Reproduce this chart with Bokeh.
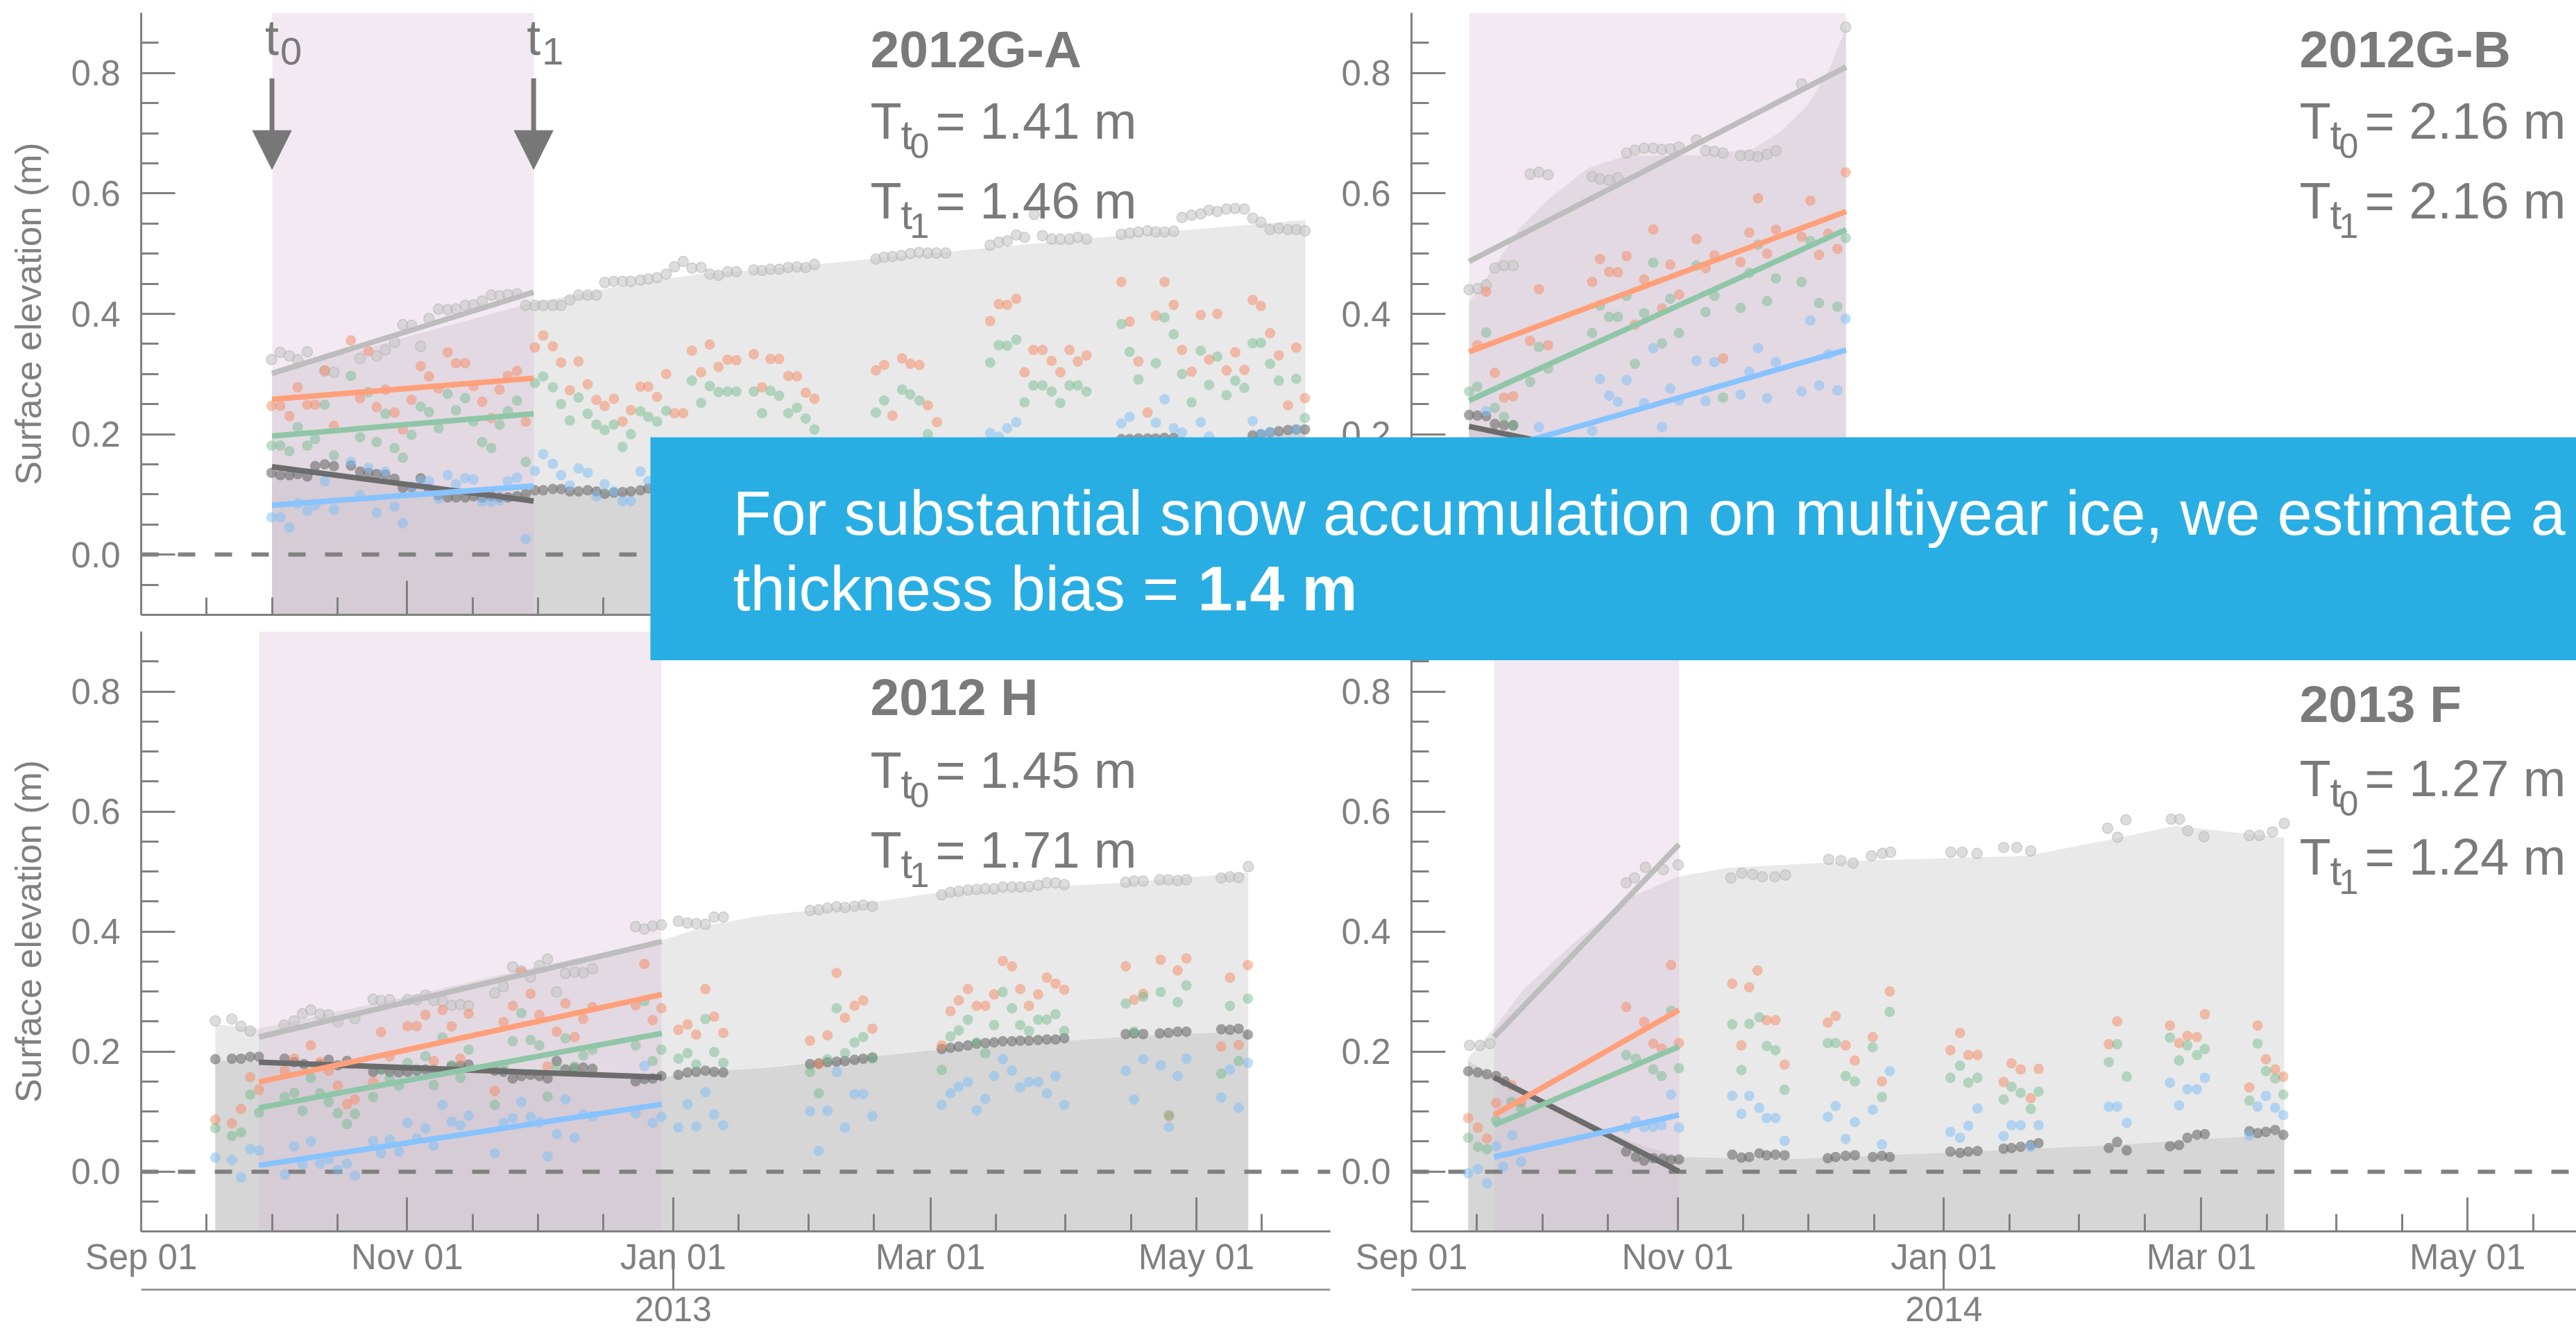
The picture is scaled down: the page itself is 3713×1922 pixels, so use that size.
import pandas as pd
from bokeh.plotting import figure
from bokeh.layouts import column, row
from bokeh.models import (Range1d, FixedTicker, DatetimeAxis, DatetimeTickFormatter, LinearAxis,
                          PrintfTickFormatter, Arrow, NormalHead)
from bokeh.core.properties import value
from bokeh.embed import file_html
from bokeh.resources import INLINE

# ---------------------------------------------------------------- data
# days are counted from 1 September of each season; values in metres
PANEL_NAMES = ["2012G-A", "2012G-B", "2012 H", "2013 F"]
SEASON_START = ["2012-09-01", "2012-09-01", "2012-09-01", "2013-09-01"]
YEAR_LABEL = ["", "", "2013", "2014"]
T_T0 = ["1.41", "2.16", "1.45", "1.27"]
T_T1 = ["1.46", "2.16", "1.71", "1.24"]

# t0 / t1 (days) and linear fits between them
GA_T = [30.0, 90.0]
GA_FIT_SNOW = [0.301, 0.436]
GA_FIT_ICE = [0.146, 0.089]
GA_FIT_ORANGE = [0.258, 0.293]
GA_FIT_GREEN = [0.197, 0.234]
GA_FIT_BLUE = [0.082, 0.114]
GB_T = [13.2, 99.6]
GB_FIT_SNOW = [0.487, 0.810]
GB_FIT_ICE = [0.213, 0.083]
GB_FIT_ORANGE = [0.337, 0.570]
GB_FIT_GREEN = [0.256, 0.540]
GB_FIT_BLUE = [0.161, 0.340]
H_T = [27.0, 119.4]
H_FIT_SNOW = [0.224, 0.383]
H_FIT_ICE = [0.182, 0.157]
H_FIT_ORANGE = [0.149, 0.295]
H_FIT_GREEN = [0.106, 0.230]
H_FIT_BLUE = [0.010, 0.112]
F_T = [18.9, 61.3]
F_FIT_SNOW = [0.224, 0.545]
F_FIT_ICE = [0.157, 0.0]
F_FIT_ORANGE = [0.094, 0.269]
F_FIT_GREEN = [0.077, 0.208]
F_FIT_BLUE = [0.024, 0.094]

# smoothed snow surface and ice surface (filled areas)
GA_SNOW_SURF = [(30, 0.30), (60, 0.36), (90, 0.419), (100, 0.432), (110, 0.446), (120, 0.458),
                (128, 0.466), (140, 0.472), (150, 0.479), (185, 0.503), (220, 0.527), (267, 0.556)]
GA_ICE_SURF = [(30, 0.138), (60, 0.118), (90, 0.101), (117, 0.104), (150, 0.12), (190, 0.15),
               (230, 0.18), (267, 0.205)]
GB_SNOW_SURF = [(13.2, 0.419), (18.4, 0.473), (24.7, 0.542), (31.0, 0.588), (40.4, 0.642),
                (49.2, 0.663), (65.6, 0.663), (78.2, 0.674), (84.5, 0.702), (90.8, 0.747),
                (95.8, 0.807), (99.6, 0.876)]
GB_ICE_SURF = [(13.2, 0.215), (25, 0.195), (50, 0.165), (75, 0.14), (99.6, 0.12)]
H_SNOW_SURF = [(17.0, 0.245), (27.0, 0.238), (60, 0.29), (90, 0.34), (119.4, 0.385), (130, 0.41),
               (142.8, 0.427), (160, 0.44), (183, 0.465), (225, 0.481), (253.9, 0.498)]
H_ICE_SURF = [(17.0, 0.185), (27.0, 0.183), (60, 0.172), (90, 0.163), (119.4, 0.157), (133, 0.168),
              (142.8, 0.172), (183, 0.203), (225, 0.224), (253.9, 0.234)]
F_SNOW_SURF = [(13.0, 0.19), (19.3, 0.242), (25.6, 0.303), (37, 0.380), (50, 0.457), (61, 0.491),
               (72.6, 0.506), (103, 0.518), (141, 0.526), (160, 0.553), (175, 0.576), (200, 0.556)]
F_ICE_SURF = [(13.0, 0.185), (19, 0.157), (30, 0.12), (40, 0.085), (50, 0.05), (61.3, 0.024),
              (85, 0.020), (122, 0.031), (159, 0.043), (200, 0.062)]

# ---- 2012G-A points
GA_SNOW = [(29.9,0.324),(31.9,0.336),(34.0,0.330),(35.9,0.324),(38.1,0.337),(42.1,0.305),(44.2,0.303),
 (50.2,0.326),(54.0,0.330),(56.0,0.340),(58.1,0.353),(60.0,0.382),(62.0,0.381),(64.1,0.346),(66.0,0.392),
 (68.2,0.408),(70.3,0.407),(72.2,0.408),(74.3,0.414),(76.2,0.415),(78.2,0.421),(80.3,0.431),(82.2,0.430),
 (84.1,0.432),(86.2,0.433),(88.2,0.414),(90.3,0.414),(92.2,0.414),(94.4,0.414),(96.3,0.414),(98.3,0.423),
 (100.3,0.431),(102.4,0.431),(104.4,0.431),(106.3,0.452),(108.4,0.454),(110.4,0.454),(112.3,0.454),
 (114.5,0.456),(116.3,0.458),(118.3,0.460),(120.4,0.466),(122.3,0.478),(124.3,0.487),(126.3,0.476),
 (128.4,0.477),(130.4,0.466),(132.4,0.464),(134.5,0.470),(136.5,0.470),(140.5,0.473),(142.4,0.472),
 (144.3,0.474),(146.3,0.474),(148.4,0.477),(150.4,0.478),(152.4,0.477),(154.4,0.482),(168.5,0.491),
 (170.4,0.494),(172.3,0.495),(174.3,0.497),(176.4,0.500),(178.4,0.502),(180.4,0.501),(182.4,0.501),
 (184.5,0.501),(194.7,0.514),(196.7,0.519),(198.6,0.521),(200.7,0.531),(202.6,0.527),(204.8,0.565),
 (206.7,0.530),(208.8,0.524),(210.8,0.524),(212.9,0.524),(214.8,0.527),(216.8,0.524),(224.8,0.532),
 (226.7,0.534),(228.7,0.536),(230.8,0.538),(232.7,0.536),(234.7,0.536),(236.8,0.537),(238.7,0.560),
 (240.9,0.564),(243.0,0.566),(244.9,0.572),(246.8,0.570),(248.9,0.574),(250.9,0.575),(253.0,0.574),
 (254.9,0.559),(256.8,0.552),(258.9,0.540),(260.9,0.542),(263.0,0.540),(264.9,0.540),(266.9,0.538)]
GA_ICE = [(29.9,0.136),(31.9,0.132),(34.0,0.132),(35.9,0.134),(38.1,0.130),(39.9,0.147),(42.1,0.150),
 (44.2,0.147),(48.1,0.148),(50.2,0.138),(52.1,0.136),(54.0,0.134),(56.0,0.133),(58.1,0.126),(60.0,0.111),
 (62.0,0.112),(64.1,0.127),(66.0,0.109),(68.2,0.099),(70.3,0.095),(72.2,0.095),(74.3,0.095),(76.2,0.097),
 (78.2,0.095),(80.3,0.097),(82.2,0.095),(84.1,0.095),(86.2,0.097),(88.2,0.101),(90.3,0.107),(92.2,0.107),
 (94.4,0.109),(96.3,0.109),(98.3,0.105),(100.3,0.105),(102.4,0.107),(104.4,0.105),(106.3,0.101),
 (108.4,0.103),(110.4,0.104),(112.3,0.105),(114.5,0.107),(116.3,0.110),(224.8,0.192),(226.7,0.192),
 (228.7,0.193),(230.8,0.193),(232.7,0.193),(234.7,0.194),(236.8,0.194),(254.9,0.198),(256.8,0.200),
 (258.9,0.203),(260.9,0.205),(263.0,0.207),(264.9,0.208),(266.9,0.208)]
GA_ORANGE = [(29.9,0.247),(31.9,0.247),(34.0,0.230),(35.9,0.278),(38.1,0.249),(39.9,0.249),(42.1,0.306),
 (44.2,0.214),(48.1,0.356),(50.2,0.260),(52.1,0.338),(54.0,0.245),(56.0,0.274),(58.1,0.236),(60.0,0.208),
 (62.0,0.257),(64.1,0.313),(66.0,0.296),(68.2,0.276),(70.3,0.336),(72.2,0.318),(74.3,0.318),(76.2,0.280),
 (78.2,0.254),(80.3,0.227),(82.2,0.274),(84.1,0.297),(86.2,0.305),(88.2,0.221),(90.3,0.344),(92.2,0.364),
 (94.4,0.346),(96.3,0.319),(98.3,0.273),(100.3,0.321),(102.4,0.283),(104.4,0.257),(106.3,0.247),
 (108.4,0.259),(110.4,0.221),(112.3,0.240),(114.5,0.279),(116.3,0.279),(118.3,0.262),(120.4,0.300),
 (122.3,0.235),(124.3,0.235),(126.3,0.339),(128.4,0.303),(130.4,0.349),(132.4,0.312),(134.5,0.324),
 (136.5,0.323),(140.5,0.333),(142.4,0.278),(144.3,0.325),(146.3,0.325),(148.4,0.297),(150.4,0.296),
 (152.4,0.269),(154.4,0.259),(168.5,0.306),(170.4,0.315),(172.3,0.231),(174.5,0.326),(176.4,0.317),
 (178.5,0.315),(180.4,0.248),(182.5,0.220),(194.7,0.388),(196.7,0.416),(198.6,0.415),(200.7,0.425),
 (202.6,0.303),(204.6,0.340),(206.7,0.340),(208.8,0.322),(210.8,0.303),(212.9,0.340),(214.8,0.321),
 (216.8,0.331),(224.8,0.453),(226.7,0.387),(228.7,0.321),(230.8,0.236),(232.7,0.397),(234.7,0.453),
 (236.8,0.415),(238.7,0.340),(240.9,0.304),(243.0,0.398),(244.9,0.324),(246.8,0.400),(248.9,0.306),
 (250.9,0.336),(253.0,0.307),(254.9,0.423),(256.8,0.413),(258.9,0.368),(260.9,0.331),(263.0,0.248),
 (264.9,0.344),(266.9,0.260)]
GA_GREEN = [(29.9,0.181),(31.9,0.181),(34.0,0.172),(35.9,0.212),(38.1,0.181),(39.9,0.192),(42.1,0.249),
 (44.2,0.165),(48.1,0.297),(50.2,0.195),(52.1,0.270),(54.0,0.187),(56.0,0.234),(58.1,0.177),(60.0,0.161),
 (62.0,0.199),(64.1,0.246),(66.0,0.237),(68.2,0.210),(70.3,0.267),(72.2,0.240),(74.3,0.260),(76.2,0.221),
 (78.2,0.187),(80.3,0.177),(82.2,0.216),(84.1,0.238),(86.2,0.256),(88.2,0.154),(90.3,0.285),(92.2,0.296),
 (94.4,0.278),(96.3,0.250),(98.3,0.223),(100.3,0.261),(102.4,0.234),(104.4,0.216),(106.3,0.207),
 (108.4,0.216),(110.4,0.179),(112.3,0.200),(114.5,0.238),(116.3,0.229),(118.3,0.221),(120.4,0.239),
 (126.3,0.289),(128.4,0.252),(130.4,0.280),(132.4,0.270),(134.5,0.271),(136.5,0.271),(140.5,0.271),
 (142.4,0.235),(144.3,0.272),(146.3,0.264),(148.4,0.235),(150.4,0.244),(152.4,0.226),(154.4,0.208),
 (168.5,0.236),(170.4,0.256),(174.5,0.274),(176.4,0.266),(178.5,0.256),(180.4,0.200),(194.7,0.319),
 (196.7,0.348),(198.6,0.347),(200.7,0.357),(202.6,0.253),(204.6,0.281),(206.7,0.281),(208.8,0.271),
 (210.8,0.252),(212.9,0.281),(214.8,0.281),(216.8,0.271),(224.8,0.383),(226.7,0.337),(228.7,0.291),
 (232.7,0.318),(234.7,0.394),(236.8,0.366),(238.7,0.300),(240.9,0.253),(243.0,0.339),(244.9,0.282),
 (246.8,0.329),(248.9,0.265),(250.9,0.289),(253.0,0.277),(254.9,0.351),(256.8,0.352),(258.9,0.317),
 (260.9,0.289),(264.9,0.292),(266.9,0.227)]
GA_BLUE = [(29.9,0.062),(31.9,0.062),(34.0,0.045),(35.9,0.085),(38.1,0.073),(39.9,0.082),(42.1,0.122),
 (44.2,0.075),(48.1,0.154),(50.2,0.099),(52.1,0.144),(54.0,0.070),(56.0,0.138),(58.1,0.080),(60.0,0.052),
 (62.0,0.113),(64.1,0.122),(66.0,0.122),(68.2,0.093),(70.3,0.132),(72.2,0.117),(74.3,0.127),(76.2,0.125),
 (78.2,0.088),(80.3,0.088),(82.2,0.090),(84.1,0.122),(86.2,0.128),(88.2,0.026),(90.3,0.139),(92.2,0.167),
 (94.4,0.151),(96.3,0.132),(98.3,0.115),(100.3,0.143),(102.4,0.136),(104.4,0.097),(106.3,0.117),
 (108.4,0.105),(110.4,0.089),(112.3,0.089),(114.5,0.138),(116.3,0.122),(194.7,0.202),(196.7,0.196),
 (198.6,0.210),(200.7,0.220),(224.8,0.218),(226.7,0.229),(232.7,0.219),(234.7,0.258),(236.8,0.210),
 (238.7,0.203),(243.0,0.220),(244.9,0.196),(254.9,0.222),(256.8,0.200),(258.9,0.204),(264.9,0.208)]

# ---- 2012G-B points
GB_SNOW = [(13.2,0.440),(15.2,0.442),(17.1,0.448),(19.1,0.476),(21.2,0.480),(23.3,0.480),(27.2,0.632),
 (29.2,0.635),(31.3,0.631),(41.4,0.628),(43.2,0.624),(45.3,0.622),(47.3,0.626),(49.3,0.667),(51.2,0.672),
 (53.3,0.675),(55.4,0.675),(57.4,0.673),(59.3,0.674),(61.3,0.677),(65.3,0.689),(67.4,0.671),(69.4,0.670),
 (71.4,0.667),(75.4,0.663),(77.4,0.663),(79.4,0.661),(81.5,0.665),(83.5,0.671),(89.4,0.782),(99.5,0.876)]
GB_ICE = [(13.2,0.232),(15.1,0.231),(17.1,0.230),(19.1,0.217),(21.2,0.215),(23.3,0.215)]
GB_ORANGE = [(15.1,0.348),(17.1,0.437),(19.1,0.302),(21.2,0.261),(23.3,0.263),(27.2,0.355),(29.2,0.441),
 (31.3,0.348),(41.4,0.453),(43.2,0.491),(45.3,0.470),(47.3,0.469),(49.3,0.496),(51.2,0.382),(53.3,0.457),
 (55.4,0.540),(57.4,0.409),(59.3,0.482),(61.3,0.432),(65.3,0.524),(67.4,0.476),(69.4,0.497),(71.4,0.326),
 (75.4,0.486),(77.4,0.535),(79.4,0.592),(81.5,0.500),(83.5,0.540),(89.4,0.528),(91.4,0.588),(93.4,0.498),
 (95.5,0.533),(97.6,0.508),(99.5,0.635)]
GB_GREEN = [(13.2,0.271),(15.1,0.279),(17.1,0.369),(19.1,0.244),(21.2,0.229),(23.3,0.214),(27.2,0.287),
 (29.2,0.345),(31.3,0.309),(41.4,0.368),(43.2,0.414),(45.3,0.395),(47.3,0.395),(49.3,0.430),(51.2,0.317),
 (53.3,0.401),(55.4,0.485),(57.4,0.351),(59.3,0.425),(61.3,0.368),(65.3,0.480),(67.4,0.403),(69.4,0.430),
 (71.4,0.261),(75.4,0.410),(77.4,0.468),(79.4,0.515),(81.5,0.421),(83.5,0.459),(89.4,0.453),(91.4,0.521),
 (93.4,0.418),(97.6,0.412),(99.5,0.526)]
GB_BLUE = [(17.1,0.238),(29.2,0.212),(41.4,0.206),(43.2,0.292),(45.3,0.264),(47.3,0.254),(49.3,0.290),
 (53.3,0.252),(55.4,0.343),(57.4,0.212),(59.3,0.276),(61.3,0.256),(65.3,0.322),(67.4,0.255),(69.4,0.320),
 (75.4,0.266),(77.4,0.304),(79.4,0.343),(81.5,0.260),(83.5,0.320),(89.4,0.271),(91.4,0.389),(93.4,0.281),
 (95.5,0.333),(97.6,0.273),(99.5,0.392)]

# ---- 2012 H points
H_SNOW = [(17.0,0.251),(20.8,0.254),(22.9,0.242),(25.0,0.234),(32.8,0.244),(35.1,0.251),(37.0,0.263),
 (38.9,0.269),(41.0,0.262),(43.0,0.261),(45.1,0.249),(49.0,0.255),(53.2,0.287),(55.0,0.285),(57.0,0.286),
 (61.1,0.286),(63.2,0.286),(65.2,0.294),(67.1,0.285),(69.1,0.284),(71.2,0.277),(73.2,0.278),(75.1,0.276),
 (81.1,0.297),(83.1,0.308),(85.2,0.341),(87.2,0.334),(89.3,0.324),(91.3,0.343),(93.2,0.354),(95.3,0.299),
 (97.3,0.330),(99.4,0.332),(101.4,0.331),(103.5,0.338),(113.4,0.408),(115.4,0.404),(117.3,0.409),
 (119.3,0.411),(123.2,0.417),(125.3,0.414),(127.3,0.413),(129.4,0.412),(131.4,0.424),(133.5,0.424),
 (153.4,0.435),(155.4,0.436),(157.4,0.439),(159.5,0.441),(161.4,0.440),(163.6,0.442),(165.6,0.444),
 (167.7,0.442),(183.6,0.461),(185.6,0.465),(187.5,0.467),(189.6,0.469),(191.6,0.470),(193.6,0.471),
 (195.6,0.471),(197.6,0.474),(199.7,0.474),(201.6,0.474),(203.6,0.475),(205.7,0.477),(207.7,0.481),
 (209.7,0.481),(211.7,0.478),(225.8,0.482),(227.7,0.484),(229.8,0.484),(233.6,0.486),(235.6,0.486),
 (237.7,0.485),(239.7,0.486),(247.7,0.489),(249.7,0.491),(251.7,0.490),(253.9,0.508)]
H_ICE = [(17.0,0.187),(20.8,0.188),(22.9,0.188),(25.0,0.191),(27.0,0.191),(32.9,0.188),(35.1,0.182),
 (37.3,0.179),(41.0,0.178),(43.0,0.186),(45.1,0.177),(47.2,0.184),(53.2,0.166),(55.0,0.170),(57.0,0.166),
 (59.1,0.165),(61.1,0.166),(63.2,0.168),(65.2,0.170),(67.1,0.169),(71.2,0.175),(73.2,0.176),(75.1,0.178),
 (81.1,0.168),(83.1,0.166),(85.2,0.155),(87.2,0.159),(89.3,0.161),(91.3,0.159),(93.2,0.155),(95.3,0.184),
 (97.3,0.170),(99.4,0.172),(101.4,0.173),(103.5,0.171),(113.4,0.150),(115.4,0.154),(117.3,0.155),
 (119.3,0.159),(123.2,0.161),(125.3,0.165),(127.3,0.166),(129.4,0.168),(131.4,0.166),(133.5,0.165),
 (153.4,0.179),(155.4,0.180),(157.4,0.182),(159.5,0.183),(161.4,0.184),(163.6,0.186),(165.6,0.188),
 (167.7,0.190),(183.6,0.204),(185.6,0.206),(187.5,0.208),(189.6,0.210),(191.6,0.213),(193.6,0.214),
 (195.6,0.215),(197.6,0.217),(199.7,0.217),(201.6,0.218),(203.6,0.218),(205.7,0.219),(207.7,0.220),
 (209.7,0.220),(211.7,0.222),(225.8,0.229),(227.7,0.230),(229.8,0.229),(233.6,0.230),(235.6,0.231),
 (237.7,0.233),(239.7,0.233),(247.7,0.237),(249.7,0.236),(251.7,0.238),(253.8,0.228)]
H_ORANGE = [(17.0,0.086),(20.8,0.080),(22.9,0.104),(25.0,0.157),(27.0,0.136),(32.9,0.168),(35.1,0.188),
 (38.9,0.210),(41.0,0.182),(43.0,0.168),(45.1,0.143),(47.2,0.112),(49.0,0.120),(53.2,0.149),(55.0,0.232),
 (57.0,0.192),(61.1,0.242),(63.2,0.242),(65.2,0.261),(67.1,0.184),(69.1,0.269),(71.2,0.242),(73.2,0.188),
 (75.1,0.263),(81.1,0.134),(83.1,0.249),(85.2,0.276),(87.2,0.332),(89.3,0.296),(91.3,0.261),(93.2,0.175),
 (95.3,0.233),(97.3,0.280),(99.4,0.224),(101.4,0.254),(103.5,0.274),(113.4,0.277),(115.4,0.346),
 (117.3,0.252),(119.3,0.272),(123.2,0.236),(125.3,0.245),(127.3,0.228),(129.4,0.304),(131.4,0.258),
 (133.5,0.231),(153.4,0.218),(155.4,0.179),(157.4,0.227),(159.5,0.331),(161.4,0.256),(163.6,0.276),
 (165.6,0.285),(167.7,0.238),(183.6,0.210),(185.6,0.267),(187.5,0.285),(189.6,0.304),(191.6,0.276),
 (193.6,0.276),(195.6,0.295),(197.6,0.351),(199.7,0.342),(201.6,0.304),(203.6,0.276),(205.7,0.295),
 (207.7,0.323),(209.7,0.313),(211.7,0.303),(225.8,0.342),(227.7,0.286),(229.8,0.296),(233.8,0.353),
 (235.7,0.092),(237.7,0.335),(239.7,0.355),(247.7,0.208),(249.7,0.323),(251.7,0.211),(253.8,0.344)]
H_GREEN = [(17.0,0.072),(20.8,0.059),(22.9,0.065),(25.0,0.128),(27.0,0.098),(32.9,0.124),(35.1,0.131),
 (37.0,0.101),(38.9,0.156),(41.0,0.130),(43.0,0.116),(45.1,0.097),(47.2,0.079),(49.0,0.096),(53.2,0.124),
 (55.0,0.170),(57.0,0.155),(59.1,0.143),(61.1,0.181),(63.2,0.171),(65.2,0.192),(67.1,0.144),(69.1,0.223),
 (71.2,0.177),(73.2,0.156),(75.1,0.203),(81.1,0.111),(83.1,0.176),(85.2,0.217),(87.2,0.264),(89.3,0.219),
 (91.3,0.210),(93.2,0.125),(95.3,0.173),(97.3,0.222),(99.4,0.175),(101.4,0.193),(103.5,0.203),
 (113.4,0.210),(115.4,0.284),(117.3,0.184),(119.3,0.203),(123.2,0.188),(125.3,0.197),(127.3,0.178),
 (129.4,0.254),(131.4,0.199),(133.5,0.181),(153.4,0.166),(155.4,0.130),(157.4,0.187),(159.5,0.272),
 (161.4,0.197),(163.6,0.215),(165.6,0.224),(167.7,0.188),(183.6,0.169),(185.6,0.225),(187.5,0.235),
 (189.6,0.253),(191.6,0.215),(193.6,0.197),(195.6,0.244),(197.6,0.299),(199.7,0.272),(201.6,0.244),
 (203.6,0.234),(205.7,0.253),(207.7,0.253),(209.7,0.262),(211.7,0.234),(225.8,0.280),(227.7,0.233),
 (229.8,0.291),(233.8,0.299),(235.7,0.094),(237.7,0.282),(239.7,0.310),(247.7,0.163),(249.7,0.276),
 (251.7,0.184),(253.8,0.288)]
H_BLUE = [(17.0,0.023),(20.8,0.019),(22.9,-0.010),(25.0,0.037),(27.0,0.035),(32.9,-0.005),(35.1,0.042),
 (37.0,0.012),(38.9,0.050),(41.0,0.013),(43.0,0.020),(45.1,0.003),(47.2,0.013),(49.0,-0.007),(53.2,0.051),
 (55.0,0.030),(57.0,0.053),(59.1,0.033),(61.1,0.081),(63.2,0.055),(65.2,0.072),(67.1,0.043),(69.1,0.111),
 (71.2,0.083),(73.2,0.077),(75.1,0.093),(81.1,0.030),(83.1,0.081),(85.2,0.089),(87.2,0.116),(89.3,0.091),
 (91.3,0.082),(93.2,0.025),(95.3,0.062),(97.3,0.120),(99.4,0.056),(101.4,0.095),(103.5,0.092),
 (113.4,0.097),(115.4,0.176),(117.3,0.081),(119.3,0.091),(123.2,0.073),(125.3,0.112),(127.3,0.075),
 (129.4,0.132),(131.4,0.095),(133.5,0.077),(153.4,0.100),(155.4,0.034),(157.4,0.101),(159.5,0.166),
 (161.4,0.073),(163.6,0.129),(165.6,0.129),(167.7,0.092),(183.6,0.111),(185.6,0.130),(187.5,0.141),
 (189.6,0.149),(191.6,0.102),(193.6,0.121),(195.6,0.159),(197.6,0.187),(199.7,0.168),(201.6,0.140),
 (203.6,0.149),(205.7,0.149),(207.7,0.130),(209.7,0.159),(211.7,0.111),(225.8,0.168),(227.7,0.120),
 (229.8,0.187),(233.8,0.177),(235.7,0.074),(237.7,0.159),(239.7,0.188),(247.7,0.123),(249.7,0.170),
 (251.7,0.106),(253.8,0.181)]

# ---- 2013 F points
F_SNOW = [(13.3,0.210),(15.7,0.210),(18.0,0.213),(49.2,0.481),(51.1,0.489),(53.6,0.507),(57.7,0.503),
 (61.1,0.511),(73.2,0.489),(75.7,0.497),(78.2,0.495),(80.4,0.491),(83.3,0.491),(85.7,0.494),(95.6,0.520),
 (98.4,0.518),(101.2,0.514),(105.4,0.526),(107.9,0.530),(109.8,0.532),(123.6,0.532),(126.2,0.532),
 (129.6,0.530),(135.7,0.540),(138.7,0.540),(141.9,0.534),(159.5,0.572),(161.8,0.557),(163.7,0.586),
 (174.1,0.587),(176.0,0.587),(177.9,0.568),(181.6,0.558),(192.0,0.560),(194.3,0.560),(197.3,0.566),
 (200.0,0.580)]
F_ICE = [(13.0,0.167),(15.2,0.165),(17.3,0.162),(19.4,0.159),(21.4,0.150),(49.2,0.033),(51.4,0.024),
 (53.3,0.018),(55.4,0.022),(57.6,0.021),(59.5,0.019),(61.3,0.020),(73.5,0.028),(75.6,0.023),(77.4,0.024),
 (79.7,0.030),(81.4,0.027),(83.4,0.028),(85.5,0.027),(95.4,0.022),(97.2,0.024),(99.5,0.026),(101.6,0.027),
 (105.7,0.024),(107.8,0.026),(109.6,0.024),(123.5,0.033),(125.7,0.031),(127.6,0.033),(129.7,0.034),
 (135.7,0.038),(137.5,0.039),(139.6,0.041),(141.9,0.044),(143.7,0.047),(159.8,0.039),(161.7,0.049),
 (163.9,0.035),(173.8,0.042),(175.9,0.044),(177.8,0.056),(180.0,0.061),(181.8,0.062),(192.0,0.067),
 (193.9,0.064),(195.8,0.066),(197.9,0.069),(199.8,0.061)]
F_ORANGE = [(13.0,0.089),(15.2,0.073),(17.3,0.055),(19.4,0.114),(22.9,0.144),(25.1,0.115),(49.2,0.274),
 (53.3,0.249),(55.4,0.213),(57.3,0.205),(59.5,0.344),(61.3,0.214),(73.5,0.313),(75.6,0.210),(77.4,0.307),
 (79.3,0.335),(81.4,0.252),(83.4,0.252),(85.5,0.178),(95.4,0.248),(97.2,0.259),(99.5,0.210),(101.6,0.185),
 (105.7,0.224),(107.8,0.150),(109.6,0.300),(123.5,0.202),(125.7,0.231),(127.6,0.194),(129.7,0.194),
 (135.7,0.149),(137.5,0.180),(139.6,0.170),(141.9,0.122),(143.7,0.171),(159.8,0.212),(161.7,0.250),
 (173.8,0.243),(175.9,0.214),(177.8,0.226),(180.0,0.224),(181.8,0.262),(192.0,0.140),(193.9,0.243),
 (195.8,0.187),(197.9,0.170),(199.8,0.158)]
F_GREEN = [(13.0,0.056),(15.2,0.041),(17.3,0.037),(19.4,0.085),(22.9,0.116),(25.1,0.105),(49.2,0.194),
 (51.4,0.188),(55.4,0.170),(57.3,0.159),(59.5,0.268),(61.3,0.172),(73.5,0.245),(75.6,0.169),(77.4,0.246),
 (79.7,0.257),(81.4,0.209),(83.4,0.202),(85.5,0.136),(95.4,0.214),(97.2,0.214),(99.5,0.159),(101.6,0.150),
 (105.7,0.207),(107.8,0.124),(109.6,0.266),(123.5,0.156),(125.7,0.176),(127.6,0.148),(129.7,0.156),
 (135.7,0.120),(137.5,0.141),(139.6,0.131),(141.9,0.104),(143.7,0.133),(159.8,0.182),(161.7,0.212),
 (163.9,0.158),(173.8,0.223),(175.9,0.185),(177.8,0.210),(180.0,0.194),(181.8,0.204),(192.0,0.118),
 (193.9,0.213),(195.8,0.167),(197.9,0.155),(199.8,0.128)]
F_BLUE = [(13.0,-0.003),(15.2,0.004),(17.3,-0.020),(19.4,0.042),(21.0,0.008),(23.1,0.060),(25.1,0.016),
 (49.2,0.072),(51.4,0.084),(53.3,0.074),(55.4,0.074),(57.3,0.077),(59.5,0.128),(61.3,0.073),(73.5,0.126),
 (75.6,0.096),(77.4,0.126),(79.7,0.106),(81.4,0.089),(83.4,0.089),(85.5,0.051),(95.4,0.091),(97.2,0.109),
 (99.5,0.054),(101.6,0.082),(105.7,0.103),(107.8,0.045),(109.6,0.167),(123.5,0.066),(125.7,0.056),
 (127.6,0.076),(129.7,0.105),(135.7,0.059),(137.5,0.077),(139.6,0.077),(141.9,0.041),(143.7,0.077),
 (159.8,0.108),(161.7,0.108),(163.9,0.081),(173.8,0.148),(175.9,0.110),(177.8,0.137),(180.0,0.137),
 (181.8,0.156),(192.0,0.060),(193.9,0.108),(195.8,0.126),(197.9,0.106),(199.8,0.094)]

BANNER_LINE1 = "For substantial snow accumulation on multiyear ice, we estimate a"
BANNER_LINE2 = "thickness bias = "
BANNER_BOLD = "1.4 m"

# ---------------------------------------------------------------- style
FONT = "Liberation Sans"
AX = "#808080"
TXT = "#7a7a7a"
SNOW_AREA = "#e9e9e9"
ICE_AREA = "#d6d6d6"
PINK = "#d7b6d4"
BLUE_BANNER = "#29aee3"
PT_STYLE = {"snow": ("#c6c6c6", 0.6), "ice": ("#6a6a6a", 0.6), "orange": ("#f58a64", 0.5),
            "green": ("#6db88a", 0.45), "blue": ("#7bbef7", 0.5)}
LINE_COL = {"snow": "#bdbdbd", "ice": "#6c6c6c", "orange": "#ffa07a", "green": "#8fc6a8",
            "blue": "#87c3ff"}
DAY_MS = 86400000.0
BASE_SHIFT = 0.33   # glyph text is drawn this many em below the requested baseline

# panel layout: canvas origin, canvas size, borders (l, r, t, b), px per day
GEOM = [
    dict(cx=0, cy=0, w=1925, h=898, bl=203, br=8, bt=18, bb=12, ppd=6.285),
    dict(cx=1925, cy=0, w=1788, h=898, bl=109, br=0, bt=18, bb=12, ppd=6.29),
    dict(cx=0, cy=898, w=1925, h=1024, bl=203, br=8, bt=12, bb=147, ppd=6.285),
    dict(cx=1925, cy=898, w=1788, h=1024, bl=109, br=0, bt=12, bb=147, ppd=6.29),
]
TEXT_POS = [(1254, 95, 198, 313), (3314, 95, 198, 313), (1254, 1029, 1134, 1249),
            (3314, 1039, 1146, 1259)]

SERIES = [
    dict(t=GA_T, fits=dict(snow=GA_FIT_SNOW, ice=GA_FIT_ICE, orange=GA_FIT_ORANGE, green=GA_FIT_GREEN, blue=GA_FIT_BLUE),
         snow_surf=GA_SNOW_SURF, ice_surf=GA_ICE_SURF,
         pts=dict(snow=GA_SNOW, ice=GA_ICE, orange=GA_ORANGE, green=GA_GREEN, blue=GA_BLUE)),
    dict(t=GB_T, fits=dict(snow=GB_FIT_SNOW, ice=GB_FIT_ICE, orange=GB_FIT_ORANGE, green=GB_FIT_GREEN, blue=GB_FIT_BLUE),
         snow_surf=GB_SNOW_SURF, ice_surf=GB_ICE_SURF,
         pts=dict(snow=GB_SNOW, ice=GB_ICE, orange=GB_ORANGE, green=GB_GREEN, blue=GB_BLUE)),
    dict(t=H_T, fits=dict(snow=H_FIT_SNOW, ice=H_FIT_ICE, orange=H_FIT_ORANGE, green=H_FIT_GREEN, blue=H_FIT_BLUE),
         snow_surf=H_SNOW_SURF, ice_surf=H_ICE_SURF,
         pts=dict(snow=H_SNOW, ice=H_ICE, orange=H_ORANGE, green=H_GREEN, blue=H_BLUE)),
    dict(t=F_T, fits=dict(snow=F_FIT_SNOW, ice=F_FIT_ICE, orange=F_FIT_ORANGE, green=F_FIT_GREEN, blue=F_FIT_BLUE),
         snow_surf=F_SNOW_SURF, ice_surf=F_ICE_SURF,
         pts=dict(snow=F_SNOW, ice=F_ICE, orange=F_ORANGE, green=F_GREEN, blue=F_BLUE)),
]


def fmt(f):
    keys = ["microseconds", "milliseconds", "seconds", "minsec", "minutes", "hourmin",
            "hours", "days", "months", "years"]
    return DatetimeTickFormatter(**{k: f for k in keys})


def style_axis(ax, lab_size):
    ax.axis_line_color = AX
    ax.axis_line_width = 3
    ax.major_tick_line_color = AX
    ax.major_tick_line_width = 3
    ax.minor_tick_line_color = AX
    ax.minor_tick_line_width = 3
    ax.major_label_text_color = AX
    ax.major_label_text_font = FONT
    ax.major_label_text_font_size = lab_size
    ax.major_tick_out = 0
    ax.minor_tick_out = 0


def make_panel(i):
    g = GEOM[i]
    s = SERIES[i]
    start = pd.Timestamp(SEASON_START[i])
    x0 = start.value / 1e6
    fw = g["w"] - g["bl"] - g["br"]
    fh = g["h"] - g["bt"] - g["bb"]
    x1 = x0 + fw / g["ppd"] * DAY_MS
    fl = g["cx"] + g["bl"]
    ft = g["cy"] + g["bt"]

    def X(d):
        return x0 + d * DAY_MS

    def PX(px):
        return x0 + (px - fl) / fw * (x1 - x0)

    def PY(py, size=0):
        return 0.9 - (py - BASE_SHIFT * size - ft) / fh

    p = figure(width=g["w"], height=g["h"], x_axis_type="datetime",
               x_range=Range1d(x0, x1), y_range=Range1d(-0.1, 0.9),
               output_backend="svg", toolbar_location=None,
               min_border_left=g["bl"], min_border_right=g["br"],
               min_border_top=g["bt"], min_border_bottom=g["bb"])
    p.outline_line_color = None
    p.xgrid.visible = False
    p.ygrid.visible = False
    p.background_fill_color = "white"
    p.border_fill_color = "white"

    # y axis
    ya = p.yaxis[0]
    style_axis(ya, "51px")
    ya.ticker = FixedTicker(ticks=[0.0, 0.2, 0.4, 0.6, 0.8],
                            minor_ticks=[round(-0.05 + 0.05 * k, 2) for k in range(19)])
    ya.formatter = PrintfTickFormatter(format="%.1f")
    ya.major_tick_in = 49
    ya.minor_tick_in = 25
    ya.major_label_standoff = 30
    if i in (0, 2):
        ya.axis_label = "Surface elevation (m)"
        ya.axis_label_text_font = FONT
        ya.axis_label_text_font_size = "52px"
        ya.axis_label_text_font_style = "normal"
        ya.axis_label_text_color = AX
        ya.axis_label_standoff = 30

    # x axis ticks: month starts (long, labelled in the bottom row) and half months
    majors = [pd.Timestamp(start.year, 9, 1), pd.Timestamp(start.year, 11, 1),
              pd.Timestamp(start.year + 1, 1, 1), pd.Timestamp(start.year + 1, 3, 1),
              pd.Timestamp(start.year + 1, 5, 1)]
    major_ms = [t.value / 1e6 for t in majors]
    minors = []
    for k in range(10):
        m = (start + pd.DateOffset(months=k))
        minors.append(m)
        minors.append(m + pd.Timedelta(days=15))
    minor_ms = [t.value / 1e6 for t in minors]
    xa = p.xaxis[0]
    style_axis(xa, "51px")
    xa.formatter = fmt("%b %d")
    xa.minor_tick_in = 25
    if YEAR_LABEL[i]:
        xa.ticker = FixedTicker(ticks=major_ms, minor_ticks=minor_ms)
        xa.major_tick_in = 49
        xa.major_label_standoff = 8
        # invisible spacer between the date labels and the year axis
        spacer = LinearAxis(ticker=FixedTicker(ticks=[], minor_ticks=major_ms), axis_line_color=None,
                            major_tick_out=16, minor_tick_out=16, major_tick_in=0, minor_tick_in=0,
                            major_tick_line_alpha=0, minor_tick_line_alpha=0)
        p.add_layout(spacer, "below")
        yr = DatetimeAxis(ticker=FixedTicker(ticks=[pd.Timestamp(int(YEAR_LABEL[i]), 1, 1).value / 1e6],
                                             minor_ticks=[]),
                          formatter=fmt("%Y"))
        style_axis(yr, "50px")
        yr.major_tick_in = 37
        yr.minor_tick_in = 0
        yr.major_label_standoff = 10
        yr.axis_line_color = "#9a9a9a"
        p.add_layout(yr, "below")
    else:
        xa.ticker = FixedTicker(ticks=[], minor_ticks=minor_ms)
        longt = LinearAxis(ticker=FixedTicker(ticks=[], minor_ticks=major_ms), axis_line_color=None,
                           major_tick_out=0, minor_tick_out=0, major_tick_in=0, minor_tick_in=49,
                           minor_tick_line_color=AX, minor_tick_line_width=3)
        p.add_layout(longt, "below")

    # filled surfaces
    sd = [X(d) for d, v in s["snow_surf"]]
    p.varea(x=sd, y1=[-0.2] * len(sd), y2=[v for d, v in s["snow_surf"]], fill_color=SNOW_AREA)
    idd = [X(d) for d, v in s["ice_surf"]]
    p.varea(x=idd, y1=[-0.2] * len(idd), y2=[v for d, v in s["ice_surf"]], fill_color=ICE_AREA)
    t0, t1 = s["t"]
    p.vstrip(x0=[X(t0)], x1=[X(t1)], fill_color=PINK, fill_alpha=0.3, line_color=None)
    p.hspan(y=[0.0], line_color=AX, line_width=6, line_dash="25 28")

    for key in ["snow", "ice", "orange", "green", "blue"]:
        col, al = PT_STYLE[key]
        pts = s["pts"][key]
        extra = dict(line_color="#b0b0b0", line_alpha=0.5, line_width=1.5) if key == "snow" \
            else dict(line_color=None)
        p.scatter(x=[X(d) for d, v in pts], y=[v for d, v in pts], size=15,
                  fill_color=col, fill_alpha=al, **extra)
    for key in ["snow", "ice", "orange", "green", "blue"]:
        p.line(x=[X(t0), X(t1)], y=s["fits"][key], line_color=LINE_COL[key], line_width=8)

    # labels
    common = dict(text_font=value(FONT), text_color=TXT, text_baseline="alphabetic",
                  text_align="left")
    tx, bt, b1, b2 = TEXT_POS[i]
    p.text(x=[PX(tx)], y=[PY(bt, 75)], text=[PANEL_NAMES[i]], text_font_size="75px",
           text_font_style="bold", **common)
    for b, sub, val in ((b1, "0", T_T0[i]), (b2, "1", T_T1[i])):
        p.text(x=[PX(tx)], y=[PY(b, 74)], text=["T"], text_font_size="74px", **common)
        p.text(x=[PX(tx + 44)], y=[PY(b + 16, 60)], text=["t"], text_font_size="60px", **common)
        p.text(x=[PX(tx + 57)], y=[PY(b + 28, 50)], text=[sub], text_font_size="50px", **common)
        p.text(x=[PX(tx + 94)], y=[PY(b, 74)], text=["= " + val + " m"], text_font_size="74px", **common)

    if i == 0:
        AC = "#777777"
        for t, sub in ((t0, "0"), (t1, "1")):
            p.add_layout(Arrow(end=NormalHead(size=56, fill_color=AC, line_color=AC),
                               x_start=X(t), y_start=0.791, x_end=X(t), y_end=0.640,
                               line_color=AC, line_width=7))
            tpx = fl + t * g["ppd"]
            p.text(x=[PX(tpx - 10)], y=[PY(77, 72)], text=["t"], text_font_size="72px", **common)
            p.text(x=[PX(tpx + 12)], y=[PY(92, 56)], text=[sub], text_font_size="56px", **common)
    return p


panels = [make_panel(i) for i in range(4)]

# banner
BW, BH = 2776, 322
banner = figure(width=BW, height=BH, x_range=Range1d(0, BW), y_range=Range1d(0, BH),
                x_axis_type=None, y_axis_type=None, toolbar_location=None,
                output_backend="svg", min_border=0)
banner.outline_line_color = None
banner.xgrid.visible = False
banner.ygrid.visible = False
banner.background_fill_color = BLUE_BANNER
banner.border_fill_color = BLUE_BANNER
bcommon = dict(text_font=value(FONT), text_color="white", text_font_size="90px",
               text_baseline="alphabetic", text_align="left")
shift = BASE_SHIFT * 90
banner.text(x=[119], y=[183 + shift], text=[BANNER_LINE1], **bcommon)
banner.text(x=[119], y=[74 + shift], text=[BANNER_LINE2], **bcommon)
banner.text(x=[789], y=[74 + shift], text=[BANNER_BOLD], text_font_style="bold", **bcommon)
banner.styles = {"position": "absolute", "left": "937px", "top": "630px", "z-index": "10"}

root = column(row(panels[0], panels[1]), row(panels[2], panels[3]), banner)
open("out.html", "w").write(file_html(root, INLINE))
